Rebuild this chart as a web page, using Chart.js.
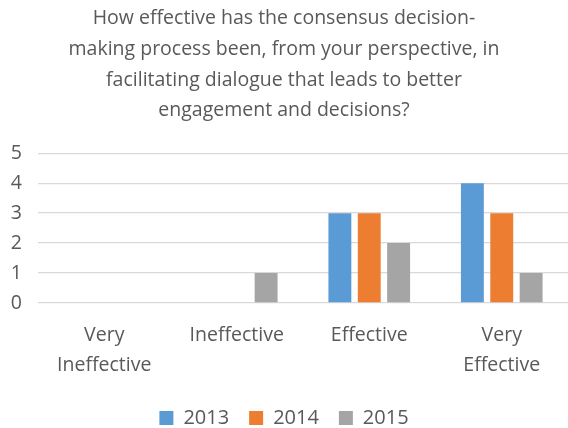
<!DOCTYPE html>
<html>
<head>
<meta charset="utf-8">
<script src="https://cdn.jsdelivr.net/npm/chart.js@4"></script>
<style>
  html, body { margin: 0; padding: 0; background: #fff; }
  #wrap { width: 568px; height: 428px; }
</style>
</head>
<body>
<div id="wrap"><canvas id="chart" width="568" height="428"></canvas></div>
<script>
const titleLines = [
  'How effective has the consensus decision-',
  'making process been, from your perspective, in',
  'facilitating dialogue that leads to better',
  'engagement and decisions?'
];
const categories = [['Very', 'Ineffective'], 'Ineffective', 'Effective', ['Very', 'Effective']];
const series2013 = [0, 0, 3, 4];
const series2014 = [0, 0, 3, 3];
const series2015 = [0, 1, 2, 1];
const yTicks = [0, 1, 2, 3, 4, 5];

const textColor = '#595959';
const font = 'Open Sans';

const ctx = document.getElementById('chart');
new Chart(ctx, {
  type: 'bar',
  data: {
    labels: categories,
    datasets: [
      { label: '2013', data: series2013, backgroundColor: '#5B9BD5' },
      { label: '2014', data: series2014, backgroundColor: '#ED7D31' },
      { label: '2015', data: series2015, backgroundColor: '#A5A5A5' }
    ]
  },
  options: {
    responsive: false,
    animation: false,
    barPercentage: 0.78,
    categoryPercentage: 0.665,
    layout: { padding: { left: 0, right: 0, top: 3, bottom: -10 } },
    plugins: {
      title: {
        display: true,
        text: titleLines,
        color: textColor,
        font: { family: font, size: 19.5, weight: 'normal', lineHeight: 1.58 },
        padding: { top: 0, bottom: 27 }
      },
      legend: {
        position: 'bottom',
        labels: { color: textColor, font: { family: font, size: 20 }, boxWidth: 14, boxHeight: 14, padding: 20 }
      },
      tooltip: { enabled: false }
    },
    scales: {
      x: {
        afterFit: s => { s.height = 85; },
        grid: { display: false },
        border: { display: false },
        ticks: { color: textColor, font: { family: font, size: 19.5, lineHeight: 1.55 }, maxRotation: 0, autoSkip: false, padding: 9 }
      },
      y: {
        min: 0,
        max: 5,
        afterFit: s => { s.width = 38; },
        afterBuildTicks: s => { s.ticks = yTicks.map(v => ({ value: v })); },
        grid: { color: '#D9D9D9', lineWidth: 1.3, drawTicks: false },
        border: { display: false },
        ticks: { color: textColor, font: { family: font, size: 19.5 }, padding: 16 }
      }
    }
  }
});
</script>
</body>
</html>
